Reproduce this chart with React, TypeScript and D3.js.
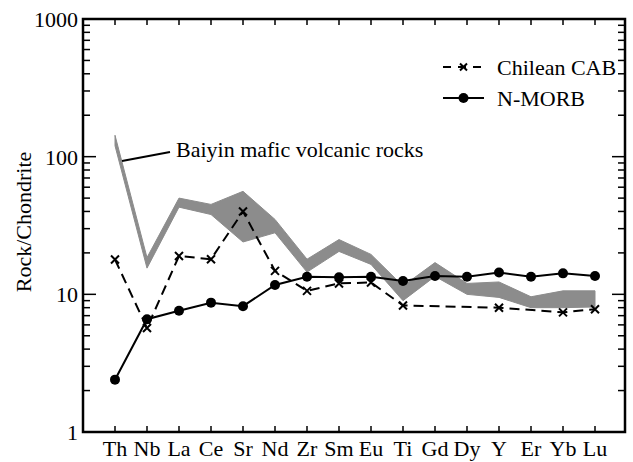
import React, { useEffect, useRef } from 'react';
import * as d3 from 'd3';

const elements = ['Th', 'Nb', 'La', 'Ce', 'Sr', 'Nd', 'Zr', 'Sm', 'Eu', 'Ti', 'Gd', 'Dy', 'Y', 'Er', 'Yb', 'Lu'];
const nMorb = [2.4, 6.6, 7.6, 8.7, 8.2, 11.7, 13.4, 13.3, 13.4, 12.5, 13.6, 13.4, 14.4, 13.4, 14.2, 13.6];
const chileanCab = [17.9, 5.7, 19, 18, 40, 14.8, 10.6, 12, 12.2, 8.3, null, null, 8.0, null, 7.4, 7.8];
const baiyinUpper = [143, 18.5, 50, 45, 56, 35, 18, 25, 19.5, 11.5, 17, 12, 12.3, 9.6, 10.6, 10.6];
const baiyinLower = [120, 15.5, 43, 38, 24, 28, 14.5, 20.5, 16.5, 9, 13.5, 10, 9.5, 8, 8, 8.1];
const yTickLabels = ['1', '10', '100', '1000'];

const FONT = "'Liberation Serif', 'DejaVu Serif', 'Times New Roman', serif";

export default function App() {
  const ref = useRef<SVGSVGElement>(null);

  useEffect(() => {
    const width = 633,
      height = 462;
    const left = 83,
      right = 625,
      top = 19,
      bottom = 432;

    const svg = d3.select(ref.current).attr('width', width).attr('height', height);
    svg.selectAll('*').remove();
    svg.style('font-family', FONT);

    const x = d3
      .scalePoint<string>()
      .domain(elements)
      .range([left, left + 544])
      .padding(1);

    const y = d3.scaleLog().domain([1, 1000]).range([bottom, top]);

    // shaded field for the Baiyin rocks
    const band = d3
      .area<number>()
      .x((d, i) => x(elements[i]) as number)
      .y0((d, i) => y(baiyinLower[i]))
      .y1(d => y(d));
    svg
      .append('path')
      .attr('d', band(baiyinUpper))
      .attr('fill', '#8c8c8c')
      .attr('stroke', '#8c8c8c')
      .attr('stroke-width', 1);

    // Chilean CAB, dashed, points missing for some elements
    const cab = elements
      .map((e, i) => ({ e, v: chileanCab[i] }))
      .filter(d => d.v != null) as { e: string; v: number }[];
    const line = d3
      .line<{ e: string; v: number }>()
      .x(d => x(d.e) as number)
      .y(d => y(d.v));
    svg
      .append('path')
      .attr('d', line(cab))
      .attr('fill', 'none')
      .attr('stroke', '#000')
      .attr('stroke-width', 2)
      .attr('stroke-dasharray', '10,6');

    const cross = (g, cx: number, cy: number, s: number) => {
      g.append('path')
        .attr('d', `M${cx - s},${cy - s}L${cx + s},${cy + s}M${cx - s},${cy + s}L${cx + s},${cy - s}`)
        .attr('stroke', '#000')
        .attr('stroke-width', 2);
    };
    cab.forEach(d => cross(svg, x(d.e) as number, y(d.v), 4));

    // N-MORB
    const morb = elements.map((e, i) => ({ e, v: nMorb[i] }));
    svg
      .append('path')
      .attr('d', line(morb))
      .attr('fill', 'none')
      .attr('stroke', '#000')
      .attr('stroke-width', 2);
    svg
      .selectAll('.morb')
      .data(morb)
      .enter()
      .append('circle')
      .attr('class', 'morb')
      .attr('cx', d => x(d.e) as number)
      .attr('cy', d => y(d.v))
      .attr('r', 5)
      .attr('fill', '#000');

    // ticks, all inward
    const ticks = svg.append('g').attr('stroke', '#000').attr('stroke-width', 1.5);
    y.ticks().forEach(t => {
      const major = Math.abs(Math.log10(t) - Math.round(Math.log10(t))) < 1e-9;
      const len = major ? 13 : 7;
      ticks.append('line').attr('x1', left).attr('x2', left + len).attr('y1', y(t)).attr('y2', y(t));
      ticks.append('line').attr('x1', right).attr('x2', right - len).attr('y1', y(t)).attr('y2', y(t));
    });
    elements.forEach(e => {
      const px = x(e) as number;
      ticks.append('line').attr('x1', px).attr('x2', px).attr('y1', bottom).attr('y2', bottom - 6);
      ticks.append('line').attr('x1', px).attr('x2', px).attr('y1', top).attr('y2', top + 6);
    });

    // frame
    svg
      .append('rect')
      .attr('x', left)
      .attr('y', top)
      .attr('width', right - left)
      .attr('height', bottom - top)
      .attr('fill', 'none')
      .attr('stroke', '#000')
      .attr('stroke-width', 2.5);

    // tick labels
    svg
      .selectAll('.ylab')
      .data(yTickLabels)
      .enter()
      .append('text')
      .attr('x', 78)
      .attr('y', d => y(+d))
      .attr('dy', '0.36em')
      .attr('text-anchor', 'end')
      .attr('font-size', 22)
      .text(d => d);

    svg
      .selectAll('.xlab')
      .data(elements)
      .enter()
      .append('text')
      .attr('x', d => x(d) as number)
      .attr('y', 456)
      .attr('text-anchor', 'middle')
      .attr('font-size', 22)
      .text(d => d);

    svg
      .append('text')
      .attr('transform', 'translate(31,222) rotate(-90)')
      .attr('text-anchor', 'middle')
      .attr('font-size', 22)
      .text('Rock/Chondrite');

    // label for the field
    svg
      .append('line')
      .attr('x1', 122)
      .attr('y1', 161)
      .attr('x2', 170)
      .attr('y2', 152)
      .attr('stroke', '#000')
      .attr('stroke-width', 2);
    svg
      .append('text')
      .attr('x', 176)
      .attr('y', 157)
      .attr('font-size', 22)
      .text('Baiyin mafic volcanic rocks');

    // legend
    const legend = svg.append('g');
    legend
      .append('line')
      .attr('x1', 443)
      .attr('x2', 484)
      .attr('y1', 67)
      .attr('y2', 67)
      .attr('stroke', '#000')
      .attr('stroke-width', 2)
      .attr('stroke-dasharray', '8,7');
    cross(legend, 463.5, 67, 3.5);
    legend
      .append('line')
      .attr('x1', 443)
      .attr('x2', 484)
      .attr('y1', 98)
      .attr('y2', 98)
      .attr('stroke', '#000')
      .attr('stroke-width', 2);
    legend.append('circle').attr('cx', 463.5).attr('cy', 98).attr('r', 5).attr('fill', '#000');
    legend
      .selectAll('.legtext')
      .data(['Chilean CAB', 'N-MORB'])
      .enter()
      .append('text')
      .attr('x', 497)
      .attr('y', (d, i) => 67 + i * 31)
      .attr('dy', '0.35em')
      .attr('font-size', 22)
      .text(d => d);
  }, []);

  return (
    <svg
      ref={ref}
      style={{ position: 'absolute', left: 0, top: 0, background: '#fff' }}
    />
  );
}
